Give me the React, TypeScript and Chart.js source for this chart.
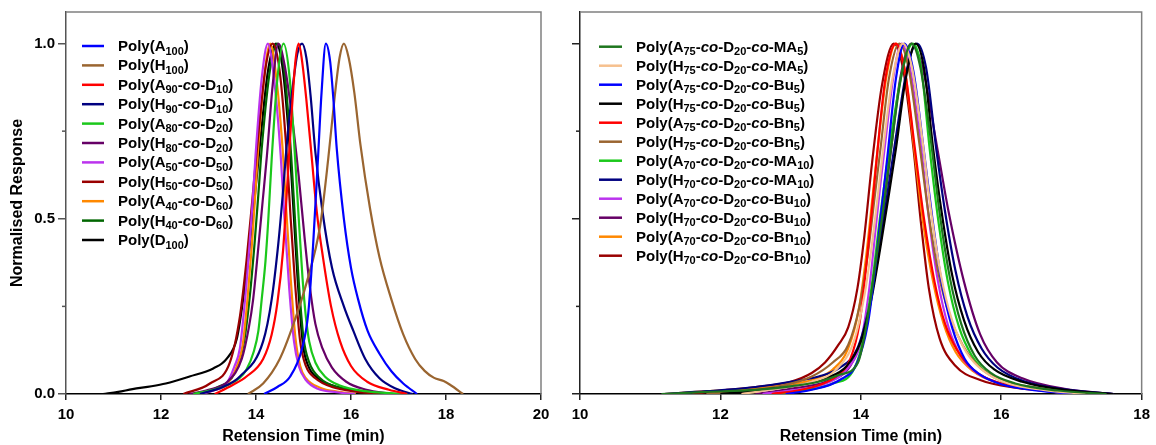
import React, { useEffect, useRef } from "react";
import { Chart, registerables } from "chart.js";
Chart.register(...registerables);

type P = [number, number];

const FONT = '"Liberation Sans", Arial, sans-serif';

// ---------- Left panel data ----------
const leftLabels = [
  "Poly(A_{100})",
  "Poly(H_{100})",
  "Poly(A_{90}-*co*-D_{10})",
  "Poly(H_{90}-*co*-D_{10})",
  "Poly(A_{80}-*co*-D_{20})",
  "Poly(H_{80}-*co*-D_{20})",
  "Poly(A_{50}-*co*-D_{50})",
  "Poly(H_{50}-*co*-D_{50})",
  "Poly(A_{40}-*co*-D_{60})",
  "Poly(H_{40}-*co*-D_{60})",
  "Poly(D_{100})",
];
const leftColors = ["#0000FF", "#9A6530", "#FF0000", "#000080", "#1BC81B", "#660066", "#BB33EE", "#990000", "#FF8800", "#006600", "#000000"];

const L_A100: P[] = [[14.17,0],[14.45,0.02],[14.72,0.05],[14.97,0.13],[15.1,0.23],[15.2,0.42],[15.3,0.66],[15.38,0.86],[15.47,1],[15.56,0.95],[15.63,0.84],[15.7,0.7],[15.85,0.5],[16.0,0.36],[16.15,0.27],[16.35,0.18],[16.6,0.115],[16.85,0.065],[17.1,0.03],[17.39,0]];
const L_H100: P[] = [[13.83,0],[14.15,0.03],[14.5,0.1],[14.79,0.2],[15.07,0.32],[15.35,0.48],[15.52,0.67],[15.65,0.84],[15.76,0.96],[15.85,1],[15.95,0.96],[16.07,0.86],[16.2,0.71],[16.4,0.53],[16.6,0.39],[16.85,0.27],[17.1,0.17],[17.35,0.1],[17.55,0.066],[17.75,0.046],[17.95,0.037],[18.1,0.025],[18.36,0]];
const L_A90: P[] = [[13.13,0],[13.5,0.025],[13.8,0.05],[14.15,0.1],[14.33,0.17],[14.45,0.26],[14.57,0.41],[14.66,0.6],[14.75,0.8],[14.83,0.95],[14.9,1],[14.97,0.95],[15.06,0.84],[15.17,0.68],[15.28,0.52],[15.41,0.39],[15.58,0.25],[15.77,0.15],[16.0,0.08],[16.34,0.035],[16.8,0.012],[17.18,0]];
const L_H90: P[] = [[12.82,0],[13.3,0.02],[13.66,0.05],[14.15,0.15],[14.33,0.27],[14.47,0.43],[14.57,0.58],[14.64,0.7],[14.76,0.86],[14.87,0.97],[14.97,1],[15.06,0.96],[15.15,0.85],[15.25,0.69],[15.4,0.52],[15.6,0.36],[15.85,0.25],[16.05,0.18],[16.3,0.1],[16.6,0.045],[16.95,0.015],[17.3,0]];
const L_A80: P[] = [[12.68,0],[13.1,0.012],[13.4,0.025],[13.65,0.045],[13.8,0.07],[13.95,0.12],[14.05,0.18],[14.12,0.27],[14.2,0.38],[14.26,0.5],[14.33,0.67],[14.45,0.9],[14.58,1],[14.71,0.9],[14.82,0.68],[14.9,0.5],[14.98,0.33],[15.05,0.22],[15.12,0.15],[15.25,0.09],[15.45,0.05],[15.75,0.025],[16.3,0.008],[17.2,0]];
const L_H80: P[] = [[12.6,0],[13.0,0.012],[13.4,0.035],[13.7,0.1],[13.85,0.19],[13.94,0.27],[14.05,0.42],[14.14,0.55],[14.23,0.68],[14.35,0.88],[14.47,1],[14.6,0.94],[14.75,0.8],[14.9,0.62],[15.02,0.45],[15.13,0.31],[15.25,0.2],[15.4,0.13],[15.6,0.075],[15.9,0.035],[16.3,0.013],[16.9,0]];
const L_A50: P[] = [[12.85,0],[13.1,0.01],[13.38,0.03],[13.55,0.08],[13.66,0.13],[13.77,0.27],[13.86,0.42],[13.93,0.55],[13.99,0.68],[14.12,0.9],[14.25,1],[14.38,0.9],[14.52,0.68],[14.6,0.5],[14.7,0.3],[14.8,0.15],[14.9,0.08],[15.05,0.04],[15.3,0.015],[15.7,0.005],[16.08,0]];
const L_H50: P[] = [[12.47,0],[13.03,0.03],[13.45,0.09],[13.66,0.22],[13.8,0.38],[13.92,0.55],[14.02,0.7],[14.2,0.93],[14.35,1],[14.5,0.92],[14.65,0.68],[14.73,0.5],[14.82,0.32],[14.93,0.15],[15.05,0.08],[15.25,0.045],[15.6,0.02],[16.1,0.007],[16.6,0]];
const L_A40: P[] = [[12.75,0],[13.1,0.01],[13.4,0.03],[13.6,0.08],[13.72,0.14],[13.82,0.27],[13.91,0.42],[13.98,0.56],[14.04,0.69],[14.17,0.9],[14.3,1],[14.43,0.9],[14.56,0.7],[14.64,0.52],[14.73,0.33],[14.83,0.16],[14.93,0.08],[15.05,0.045],[15.35,0.018],[15.75,0.006],[16.1,0]];
const L_H40: P[] = [[12.7,0],[13.2,0.02],[13.55,0.06],[13.75,0.15],[13.87,0.28],[13.97,0.43],[14.05,0.57],[14.12,0.7],[14.3,0.93],[14.45,1],[14.6,0.92],[14.74,0.68],[14.82,0.5],[14.9,0.32],[15.0,0.16],[15.12,0.09],[15.35,0.045],[15.7,0.02],[16.2,0.007],[16.7,0]];
const L_D100: P[] = [[10.78,0],[11.1,0.006],[11.4,0.014],[11.8,0.022],[12.1,0.03],[12.6,0.05],[13.1,0.073],[13.38,0.1],[13.6,0.16],[13.73,0.27],[13.85,0.4],[13.95,0.53],[14.06,0.68],[14.25,0.92],[14.42,1],[14.57,0.92],[14.72,0.68],[14.8,0.5],[14.88,0.32],[14.99,0.14],[15.1,0.08],[15.3,0.045],[15.6,0.025],[16.1,0.01],[16.65,0]];
const leftSeries = [L_A100, L_H100, L_A90, L_H90, L_A80, L_H80, L_A50, L_H50, L_A40, L_H40, L_D100];

// ---------- Right panel data ----------
const rightLabels = [
  "Poly(A_{75}-*co*-D_{20}-*co*-MA_{5})",
  "Poly(H_{75}-*co*-D_{20}-*co*-MA_{5})",
  "Poly(A_{75}-*co*-D_{20}-*co*-Bu_{5})",
  "Poly(H_{75}-*co*-D_{20}-*co*-Bu_{5})",
  "Poly(A_{75}-*co*-D_{20}-*co*-Bn_{5})",
  "Poly(H_{75}-*co*-D_{20}-*co*-Bn_{5})",
  "Poly(A_{70}-*co*-D_{20}-*co*-MA_{10})",
  "Poly(H_{70}-*co*-D_{20}-*co*-MA_{10})",
  "Poly(A_{70}-*co*-D_{20}-*co*-Bu_{10})",
  "Poly(H_{70}-*co*-D_{20}-*co*-Bu_{10})",
  "Poly(A_{70}-*co*-D_{20}-*co*-Bn_{10})",
  "Poly(H_{70}-*co*-D_{20}-*co*-Bn_{10})",
];
const rightColors = ["#1E761E", "#F6C08E", "#0000FF", "#000000", "#FF0000", "#9A6530", "#1BC81B", "#000080", "#BB33EE", "#660066", "#FF8800", "#990000"];

const R_A75MA5: P[] = [[11.16,0],[11.8,0.006],[12.5,0.012],[13.0,0.022],[13.4,0.035],[13.7,0.055],[13.96,0.09],[14.1,0.22],[14.2,0.36],[14.3,0.5],[14.43,0.7],[14.57,0.9],[14.72,1],[14.85,0.93],[15.0,0.72],[15.12,0.52],[15.27,0.33],[15.43,0.2],[15.62,0.11],[15.85,0.06],[16.2,0.03],[16.8,0.01],[17.5,0]];
const R_H75MA5: P[] = [[12.3,0],[12.8,0.015],[13.3,0.035],[13.65,0.07],[13.9,0.15],[14.05,0.28],[14.16,0.43],[14.25,0.58],[14.33,0.72],[14.45,0.9],[14.6,1],[14.73,0.93],[14.88,0.72],[15.0,0.52],[15.14,0.34],[15.3,0.21],[15.5,0.12],[15.75,0.065],[16.1,0.03],[16.6,0.012],[17.2,0]];
const R_A75Bu5: P[] = [[12.93,0],[13.3,0.012],[13.7,0.04],[13.95,0.09],[14.1,0.2],[14.2,0.35],[14.28,0.5],[14.38,0.68],[14.5,0.9],[14.62,1],[14.75,0.92],[14.9,0.69],[15.02,0.5],[15.15,0.32],[15.3,0.19],[15.48,0.1],[15.7,0.055],[16.0,0.028],[16.5,0.01],[17.07,0]];
const R_H75Bu5: P[] = [[12.0,0],[12.6,0.012],[13.1,0.025],[13.5,0.045],[13.8,0.08],[14.0,0.15],[14.15,0.27],[14.28,0.42],[14.4,0.57],[14.5,0.7],[14.64,0.9],[14.78,1],[14.9,0.93],[15.03,0.7],[15.15,0.52],[15.3,0.34],[15.47,0.21],[15.67,0.12],[15.9,0.07],[16.3,0.035],[16.9,0.012],[17.6,0]];
const R_A75Bn5: P[] = [[12.73,0],[13.1,0.01],[13.4,0.025],[13.65,0.05],[13.85,0.1],[13.98,0.2],[14.08,0.37],[14.16,0.53],[14.23,0.68],[14.35,0.9],[14.5,1],[14.63,0.92],[14.77,0.7],[14.9,0.5],[15.05,0.32],[15.2,0.2],[15.37,0.126],[15.6,0.07],[15.85,0.04],[16.3,0.018],[16.8,0.007],[17.36,0]];
const R_H75Bn5: P[] = [[11.8,0],[12.4,0.01],[12.9,0.025],[13.3,0.05],[13.6,0.09],[13.82,0.14],[13.98,0.25],[14.1,0.4],[14.19,0.55],[14.28,0.7],[14.4,0.9],[14.55,1],[14.68,0.93],[14.83,0.72],[14.96,0.52],[15.1,0.35],[15.27,0.22],[15.45,0.14],[15.7,0.075],[16.0,0.04],[16.5,0.018],[17.0,0.007],[17.5,0]];
const R_A70MA10: P[] = [[12.8,0],[13.2,0.01],[13.6,0.03],[13.9,0.07],[14.05,0.17],[14.17,0.33],[14.27,0.5],[14.35,0.62],[14.45,0.76],[14.6,0.93],[14.74,1],[14.86,0.93],[14.98,0.7],[15.1,0.5],[15.24,0.32],[15.4,0.19],[15.58,0.11],[15.8,0.06],[16.1,0.03],[16.6,0.012],[17.2,0]];
const R_H70MA10: P[] = [[11.2,0],[11.8,0.008],[12.5,0.02],[13.0,0.035],[13.4,0.05],[13.7,0.075],[13.95,0.13],[14.12,0.25],[14.27,0.42],[14.4,0.6],[14.52,0.76],[14.66,0.93],[14.8,1],[14.93,0.93],[15.08,0.69],[15.2,0.52],[15.35,0.35],[15.52,0.22],[15.72,0.13],[15.95,0.075],[16.35,0.035],[16.9,0.013],[17.6,0]];
const R_A70Bu10: P[] = [[12.6,0],[13.0,0.01],[13.5,0.03],[13.8,0.07],[14.0,0.15],[14.12,0.3],[14.21,0.47],[14.28,0.6],[14.35,0.72],[14.46,0.9],[14.58,1],[14.7,0.93],[14.86,0.7],[14.97,0.5],[15.1,0.32],[15.25,0.19],[15.42,0.11],[15.65,0.06],[16.0,0.03],[16.5,0.012],[17.07,0]];
const R_H70Bu10: P[] = [[12.5,0],[13.0,0.015],[13.5,0.035],[13.85,0.08],[14.05,0.18],[14.2,0.34],[14.32,0.52],[14.42,0.68],[14.56,0.9],[14.72,1],[14.88,0.93],[15.09,0.7],[15.25,0.52],[15.47,0.32],[15.7,0.17],[15.94,0.09],[16.3,0.045],[16.9,0.015],[17.6,0]];
const R_A70Bn10: P[] = [[11.2,0],[11.8,0.008],[12.4,0.015],[12.9,0.025],[13.3,0.04],[13.6,0.07],[13.82,0.13],[13.97,0.24],[14.08,0.4],[14.16,0.55],[14.24,0.7],[14.36,0.9],[14.5,1],[14.63,0.92],[14.76,0.7],[14.88,0.5],[15.03,0.32],[15.18,0.2],[15.35,0.12],[15.6,0.065],[15.9,0.035],[16.4,0.015],[17.0,0]];
const R_H70Bn10: P[] = [[11.6,0],[12.0,0.01],[12.5,0.02],[13.0,0.035],[13.3,0.06],[13.49,0.09],[13.68,0.14],[13.82,0.19],[13.95,0.3],[14.05,0.45],[14.16,0.66],[14.3,0.88],[14.47,1],[14.6,0.93],[14.75,0.7],[14.85,0.5],[14.97,0.3],[15.12,0.16],[15.35,0.08],[15.7,0.04],[16.2,0.018],[16.8,0.007],[17.5,0]];
const rightSeries = [R_A75MA5, R_H75MA5, R_A75Bu5, R_H75Bu5, R_A75Bn5, R_H75Bn5, R_A70MA10, R_H70MA10, R_A70Bu10, R_H70Bu10, R_A70Bn10, R_H70Bn10];

// ---------- Axes ----------
const leftXTicks = [10, 12, 14, 16, 18, 20];
const rightXTicks = [10, 12, 14, 16, 18];
const yTicks = [0, 0.5, 1.0];
const yMinorTicks = [0.25, 0.75];
const xTitle = "Retension Time (min)";
const yTitle = "Normalised Response";

type Seg = { t: string; it: boolean; sub: boolean };
function parseRich(s: string): Seg[] {
  const segs: Seg[] = [];
  let italic = false;
  let buf = "";
  for (let i = 0; i < s.length; i++) {
    const c = s[i];
    if (c === "*") {
      if (buf) segs.push({ t: buf, it: italic, sub: false });
      buf = "";
      italic = !italic;
    } else if (c === "_" && s[i + 1] === "{") {
      if (buf) segs.push({ t: buf, it: italic, sub: false });
      buf = "";
      const j = s.indexOf("}", i);
      segs.push({ t: s.slice(i + 2, j), it: italic, sub: true });
      i = j;
    } else buf += c;
  }
  if (buf) segs.push({ t: buf, it: italic, sub: false });
  return segs;
}

const richLegend = {
  id: "richLegend",
  afterDraw(chart: any, _a: any, opts: any) {
    const ctx = chart.ctx as CanvasRenderingContext2D;
    ctx.save();
    chart.data.datasets.forEach((ds: any, i: number) => {
      const y = opts.y0 + i * opts.dy;
      ctx.strokeStyle = ds.borderColor;
      ctx.lineWidth = 2.5;
      ctx.beginPath();
      ctx.moveTo(opts.x0, y);
      ctx.lineTo(opts.x0 + opts.len, y);
      ctx.stroke();
      let x = opts.tx;
      ctx.fillStyle = "#000";
      ctx.textBaseline = "alphabetic";
      ctx.textAlign = "left";
      for (const seg of parseRich(ds.label)) {
        ctx.font = `${seg.it ? "italic " : ""}bold ${seg.sub ? 11 : 15}px ${FONT}`;
        ctx.fillText(seg.t, x, y + 5 + (seg.sub ? 3.5 : 0));
        x += ctx.measureText(seg.t).width;
      }
    });
    ctx.restore();
  },
};

const framePlugin = {
  id: "frame",
  afterDraw(chart: any, _a: any, opts: any) {
    const { left, right, top, bottom } = chart.chartArea;
    const ctx = chart.ctx as CanvasRenderingContext2D;
    ctx.save();
    ctx.strokeStyle = "#808080";
    ctx.lineWidth = 1.5;
    ctx.beginPath();
    ctx.moveTo(left, top);
    ctx.lineTo(right, top);
    ctx.lineTo(right, bottom);
    ctx.stroke();
    const ys = chart.scales.y;
    ctx.strokeStyle = opts.tickColor;
    for (const v of yMinorTicks) {
      const py = ys.getPixelForValue(v);
      ctx.beginPath();
      ctx.moveTo(left - 4, py);
      ctx.lineTo(left, py);
      ctx.stroke();
    }
    ctx.restore();
  },
};

function makeConfig(
  labels: string[],
  colors: string[],
  series: P[][],
  xTicks: number[],
  xMax: number,
  yWidth: number,
  padRight: number,
  showY: boolean,
  legend: any
): any {
  const font = { family: FONT, size: 15, weight: "bold" as const };
  const titleFont = { family: FONT, size: 16, weight: "bold" as const, lineHeight: 1.0 };
  return {
    type: "line",
    data: {
      datasets: series.map((s, i) => ({
        label: labels[i],
        data: s.map(([x, y]) => ({ x, y })),
        borderColor: colors[i],
        backgroundColor: colors[i],
        borderWidth: 2.2,
        pointRadius: 0,
        fill: false,
        cubicInterpolationMode: "monotone",
      })),
    },
    options: {
      responsive: false,
      animation: false,
      layout: { padding: { left: 0, right: padRight, top: 12, bottom: 0 } },
      plugins: {
        legend: { display: false },
        tooltip: { enabled: false },
        richLegend: legend,
        frame: { tickColor: showY ? "#555" : "#222" },
      },
      scales: {
        x: {
          type: "linear",
          min: 10,
          max: xMax,
          afterBuildTicks: (s: any) => {
            s.ticks = xTicks.map((v) => ({ value: v }));
          },
          afterFit: (s: any) => {
            s.height = 51;
          },
          grid: { drawOnChartArea: false, drawTicks: true, tickLength: 6, color: "#222", lineWidth: 1.5 },
          border: { color: "#000", width: 1.5 },
          ticks: { color: "#000", font, padding: 6, maxRotation: 0, callback: (v: any) => String(v) },
          title: { display: true, text: xTitle, color: "#000", font: titleFont, padding: { top: 0, bottom: 0 } },
        },
        y: {
          type: "linear",
          min: 0,
          max: 1.09,
          afterBuildTicks: (s: any) => {
            s.ticks = yTicks.map((v) => ({ value: v }));
          },
          afterFit: (s: any) => {
            s.width = yWidth;
          },
          grid: { drawOnChartArea: false, drawTicks: true, tickLength: 8, color: showY ? "#555" : "#222", lineWidth: 1.5 },
          border: { color: showY ? "#555" : "#222", width: 1.5 },
          ticks: {
            color: "#000",
            font,
            padding: 3,
            callback: (v: any) => (showY ? Number(v).toFixed(1) : ""),
          },
          title: { display: showY, text: yTitle, color: "#000", font: { ...titleFont, lineHeight: 1.2 }, padding: { top: 8, bottom: 0 } },
        },
      },
    },
    plugins: [richLegend, framePlugin],
  };
}

export default function App() {
  const leftRef = useRef<HTMLCanvasElement>(null);
  const rightRef = useRef<HTMLCanvasElement>(null);

  useEffect(() => {
    const left = new Chart(
      leftRef.current!,
      makeConfig(leftLabels, leftColors, leftSeries, leftXTicks, 20, 66, 19, true, {
        x0: 82,
        len: 22,
        tx: 118,
        y0: 46,
        dy: 19.4,
      })
    );
    const right = new Chart(
      rightRef.current!,
      makeConfig(rightLabels, rightColors, rightSeries, rightXTicks, 18, 20, 11, false, {
        x0: 39,
        len: 23,
        tx: 76,
        y0: 46.7,
        dy: 19.0,
      })
    );
    return () => {
      left.destroy();
      right.destroy();
    };
  }, []);

  return (
    <div style={{ position: "absolute", left: 0, top: 0, width: 1156, height: 445, background: "#fff" }}>
      <canvas ref={leftRef} width={560} height={445} style={{ position: "absolute", left: 0, top: 0, width: 560, height: 445 }} />
      <canvas ref={rightRef} width={596} height={445} style={{ position: "absolute", left: 560, top: 0, width: 596, height: 445 }} />
    </div>
  );
}
